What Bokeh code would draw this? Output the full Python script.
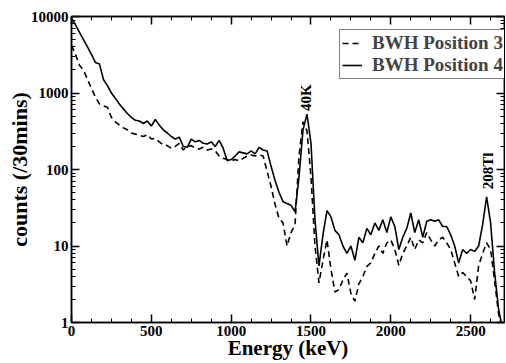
import math
from bokeh.plotting import figure
from bokeh.models import (LinearAxis, LogAxis, FixedTicker, Legend, LegendItem,
                          Label)
from bokeh.embed import file_html
from bokeh.resources import INLINE

energy_kev = [0, 25, 50, 75, 100, 125, 150, 175, 200, 225,
              250, 275, 300, 325, 350, 375, 400, 425, 450, 475,
              500, 525, 550, 575, 600, 625, 650, 675, 700, 725,
              750, 775, 800, 825, 850, 875, 900, 925, 950, 975,
              1000, 1025, 1050, 1075, 1100, 1125, 1150, 1175, 1200, 1225,
              1250, 1275, 1300, 1325, 1350, 1375, 1400, 1425, 1450, 1475,
              1500, 1525, 1550, 1575, 1600, 1625, 1650, 1675, 1700, 1725,
              1750, 1775, 1800, 1825, 1850, 1875, 1900, 1925, 1950, 1975,
              2000, 2025, 2050, 2075, 2100, 2125, 2150, 2175, 2200, 2225,
              2250, 2275, 2300, 2325, 2350, 2375, 2400, 2425, 2450, 2475,
              2500, 2525, 2550, 2575, 2600, 2625, 2650, 2675, 2700]

pos3_counts = [4200, 3200, 2300, 2000, 1500, 1150, 880, 720, 680, 650,
               480, 420, 380, 350, 330, 300, 290, 280, 270, 285,
               250, 255, 230, 210, 205, 190, 200, 220, 180, 200,
               205, 190, 185, 195, 180, 185, 175, 150, 140, 135,
               130, 135, 130, 140, 150, 155, 150, 155, 150, 95,
               60, 35, 23, 20, 10, 15, 19, 150, 420, 320,
               80, 10, 3.3, 6.5, 12, 5, 2.5, 2.7, 3.6, 4.4,
               2.4, 1.9, 3.2, 4, 5.4, 6, 8, 10, 8, 11,
               12, 9, 5.6, 8, 10, 13, 9, 12, 11, 15,
               12, 10, 12, 13, 11, 9, 6, 4, 4.5, 4,
               3.5, 2, 5.5, 8, 11, 9, 3.5, 1.3, 0.8]

pos4_counts = [9500, 7800, 6200, 5000, 4000, 3200, 2500, 2400, 1500, 1250,
               1000, 850, 720, 620, 540, 480, 440, 430, 400, 430,
               370, 450, 380, 330, 300, 270, 250, 265, 200, 195,
               250, 230, 240, 220, 215, 230, 200, 240, 190, 130,
               135, 150, 170, 165, 160, 175, 160, 195, 180, 175,
               110, 72, 50, 38, 36, 34, 28, 80, 330, 530,
               220, 22, 5.5, 14, 29, 24, 16, 14, 10, 8,
               10, 6.5, 13, 11, 17, 14, 20, 16, 22, 15,
               24, 18, 9, 13, 17, 27, 15, 22, 13, 21,
               22, 21, 22, 18, 18, 14, 10, 6, 9, 8,
               9, 8.5, 10, 19, 44, 20, 4.5, 1.5, 0.8]

series_names = ["BWH Position 3", "BWH Position 4"]
x_ticks = [0, 500, 1000, 1500, 2000, 2500]
x_tick_labels = ["0", "500", "1000", "1500", "2000", "2500"]
y_ticks = [1, 10, 100, 1000, 10000]
y_tick_labels = ["1", "10", "100", "1000", "10000"]
peak_names = ["40K", "208Tl"]
peak_energy = [1470, 2606]
peak_label_counts = [580, 55]

FONT = "Liberation Serif"
x_minor = [m for m in range(0, 2750, 125) if m % 500]
y_minor = [d * k for d in (1, 10, 100, 1000) for k in range(2, 10)]

p = figure(width=505, height=362, x_range=(0, 2712), y_range=(1, 10000),
           y_axis_type="log", output_backend="svg", toolbar_location=None,
           min_border_left=71, min_border_right=1, min_border_top=16,
           min_border_bottom=39)
p.grid.visible = False
p.outline_line_color = "black"
p.outline_line_width = 1.5
p.background_fill_color = "white"
p.border_fill_color = "white"

r3 = p.line(energy_kev, pos3_counts, line_color="black", line_width=1.6,
            line_dash="6 4")
r4 = p.line(energy_kev, pos4_counts, line_color="black", line_width=1.6)

xa = p.xaxis[0]
xa.ticker = FixedTicker(ticks=x_ticks, minor_ticks=x_minor)
xa.major_label_overrides = {t: l for t, l in zip(x_ticks, x_tick_labels)}
ya = p.yaxis[0]
ya.ticker = FixedTicker(ticks=y_ticks, minor_ticks=y_minor)
ya.major_label_overrides = {t: l for t, l in zip(y_ticks, y_tick_labels)}

top = LinearAxis(ticker=FixedTicker(ticks=x_ticks, minor_ticks=x_minor),
                 major_label_overrides={t: "" for t in x_ticks},
                 major_label_standoff=0)
right = LogAxis(ticker=FixedTicker(ticks=y_ticks, minor_ticks=y_minor),
                major_label_overrides={t: "" for t in y_ticks},
                major_label_standoff=0)
p.add_layout(top, "above")
p.add_layout(right, "right")

for ax in (xa, ya, top, right):
    ax.major_tick_in = 8
    ax.major_tick_out = 0
    ax.minor_tick_in = 4
    ax.minor_tick_out = 0
    ax.axis_line_width = 1.5
    ax.axis_line_color = "black"
    ax.major_tick_line_width = 1.5
    ax.minor_tick_line_width = 1
    ax.major_label_text_font = FONT
    ax.major_label_text_font_style = "bold"
    ax.major_label_text_color = "black"
    ax.major_label_text_font_size = "15px"

for ax in (top, right):
    ax.major_label_text_font_size = "1px"

for ax in (xa, ya):
    ax.major_label_standoff = 3
    ax.axis_label_text_font = FONT
    ax.axis_label_text_font_style = "bold"
    ax.axis_label_text_color = "black"

xa.axis_label = "Energy (keV)"
xa.axis_label_text_font_size = "21px"
xa.axis_label_standoff = -3
ya.axis_label = "counts (/30mins)"
ya.axis_label_text_font_size = "22px"
ya.axis_label_standoff = -4

legend = Legend(items=[LegendItem(label=series_names[0], renderers=[r3]),
                       LegendItem(label=series_names[1], renderers=[r4])],
                location=(268, 243))
legend.label_text_font = FONT
legend.label_text_font_style = "bold"
legend.label_text_font_size = "19px"
legend.label_height = 18
legend.glyph_height = 18
legend.glyph_width = 20
legend.label_standoff = 10
legend.spacing = 0
legend.padding = 2
legend.margin = 0
legend.border_line_color = "black"
legend.border_line_width = 1.5
legend.background_fill_alpha = 1
p.add_layout(legend)

for name, ex, ey in zip(peak_names, peak_energy, peak_label_counts):
    p.add_layout(Label(x=ex, y=ey, text=name, angle=math.pi / 2,
                       text_font=FONT, text_font_style="bold",
                       text_font_size="15px", text_align="left",
                       text_baseline="middle", text_color="black"))

open("out.html", "w").write(file_html(p, INLINE))
